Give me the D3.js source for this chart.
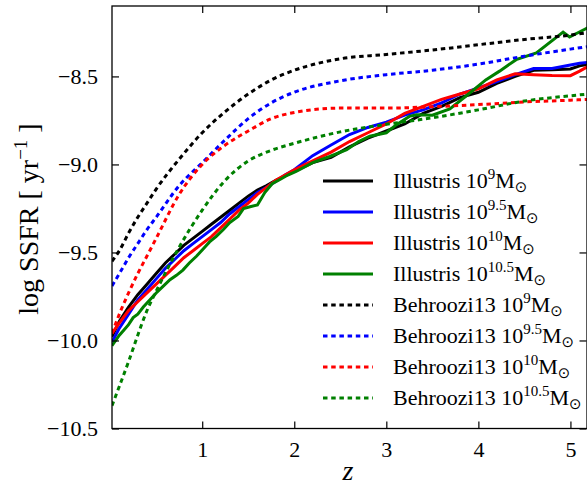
<!DOCTYPE html>
<html>
<head>
<meta charset="utf-8">
<script src="https://cdnjs.cloudflare.com/ajax/libs/d3/7.8.5/d3.min.js"></script>
<style>
  body { margin: 0; background: #fff; }
  text { font-family: "Liberation Serif", "DejaVu Serif", serif; fill: #000; }
</style>
</head>
<body>
<script>
var xTicks = [1, 2, 3, 4, 5];
var yTicks = [-10.5, -10.0, -9.5, -9.0, -8.5];

// Illustris (solid)
var ilZ = [0.02, 0.1, 0.2, 0.3, 0.4, 0.5, 0.6, 0.7, 0.8, 0.9, 1.0, 1.1, 1.2, 1.3, 1.4, 1.5, 1.6, 1.7, 1.8, 1.9, 2.0,
           2.2, 2.4, 2.6, 2.8, 3.0, 3.2, 3.4, 3.6, 3.8, 4.0, 4.2, 4.4, 4.6, 4.8, 5.0, 5.1, 5.2];
var il9 = [-9.98, -9.89, -9.81, -9.74, -9.68, -9.62, -9.56, -9.51, -9.46, -9.42, -9.38, -9.34, -9.30, -9.26, -9.22, -9.18, -9.145, -9.12, -9.09, -9.065, -9.04,
           -8.99, -8.96, -8.90, -8.85, -8.81, -8.77, -8.71, -8.67, -8.62, -8.59, -8.54, -8.50, -8.465, -8.462, -8.458, -8.44, -8.43];
var il95 = [-10.01, -9.93, -9.85, -9.77, -9.71, -9.65, -9.59, -9.54, -9.49, -9.45, -9.41, -9.37, -9.33, -9.28, -9.24, -9.20, -9.16, -9.13, -9.095, -9.06, -9.03,
            -8.95, -8.89, -8.83, -8.79, -8.76, -8.72, -8.69, -8.65, -8.60, -8.565, -8.53, -8.49, -8.455, -8.455, -8.435, -8.425, -8.42];
var il10 = [-9.96, -9.90, -9.83, -9.78, -9.73, -9.68, -9.63, -9.58, -9.53, -9.49, -9.45, -9.41, -9.36, -9.31, -9.26, -9.22, -9.17, -9.13, -9.09, -9.06, -9.03,
            -8.98, -8.93, -8.87, -8.82, -8.77, -8.71, -8.67, -8.63, -8.60, -8.57, -8.52, -8.485, -8.49, -8.495, -8.496, -8.47, -8.44];

var il105Z = [0.02, 0.1, 0.15, 0.2, 0.25, 0.3, 0.36, 0.43, 0.5, 0.58, 0.65, 0.72, 0.79, 0.86, 0.94, 1.01, 1.08, 1.15, 1.23, 1.3, 1.39, 1.45,
              1.52, 1.6, 1.68, 1.76, 1.84, 1.93, 2.02, 2.2, 2.385, 2.57, 2.7, 2.82, 3.0, 3.11, 3.25, 3.33, 3.5, 3.69, 3.87, 4.08, 4.23,
              4.41, 4.63, 4.92, 4.99, 5.2];
var il105 = [-10.03, -9.97, -9.94, -9.91, -9.87, -9.85, -9.81, -9.77, -9.73, -9.69, -9.655, -9.63, -9.60, -9.56, -9.52, -9.48, -9.44, -9.41, -9.37, -9.33, -9.295, -9.25,
             -9.24, -9.23, -9.16, -9.11, -9.087, -9.06, -9.04, -8.99, -8.955, -8.916, -8.87, -8.84, -8.82, -8.774, -8.727, -8.718, -8.72, -8.685, -8.61, -8.52, -8.47,
             -8.405, -8.367, -8.248, -8.276, -8.22];

// Behroozi13 (dotted)
var beZ = [0.02, 0.1, 0.2, 0.3, 0.4, 0.5, 0.75, 1.0, 1.25, 1.5, 1.75, 2.0, 2.5, 3.0, 3.5, 4.0, 4.5, 5.0, 5.2];
var be9 = [-9.55, -9.49, -9.39, -9.30, -9.22, -9.14, -8.97, -8.82, -8.70, -8.60, -8.52, -8.465, -8.40, -8.375, -8.35, -8.32, -8.29, -8.265, -8.25];
var be95 = [-9.69, -9.62, -9.53, -9.45, -9.37, -9.30, -9.12, -8.99, -8.86, -8.74, -8.65, -8.59, -8.525, -8.49, -8.465, -8.43, -8.385, -8.345, -8.33];
var be10 = [-9.96, -9.85, -9.73, -9.62, -9.52, -9.42, -9.17, -9.00, -8.89, -8.81, -8.74, -8.705, -8.68, -8.68, -8.672, -8.66, -8.645, -8.635, -8.63];
var be105 = [-10.37, -10.26, -10.12, -9.97, -9.83, -9.72, -9.47, -9.26, -9.09, -8.98, -8.92, -8.88, -8.815, -8.772, -8.735, -8.69, -8.64, -8.61, -8.60];

var seriesNames = ['Illustris', 'Illustris', 'Illustris', 'Illustris', 'Behroozi13', 'Behroozi13', 'Behroozi13', 'Behroozi13'];
var massExp = ['9', '9.5', '10', '10.5', '9', '9.5', '10', '10.5'];
var colors = ['#000000', '#0000ff', '#ff0000', '#008000', '#000000', '#0000ff', '#ff0000', '#008000'];

var serif = '"Liberation Serif", "DejaVu Serif", serif';

function pairs(zs, ys) {
  return zs.map(function(z, i) { return [z, ys[i]]; });
}

var lines = [
  { pts: pairs(ilZ, il9), dotted: false },
  { pts: pairs(ilZ, il95), dotted: false },
  { pts: pairs(ilZ, il10), dotted: false },
  { pts: pairs(il105Z, il105), dotted: false },
  { pts: pairs(beZ, be9), dotted: true },
  { pts: pairs(beZ, be95), dotted: true },
  { pts: pairs(beZ, be10), dotted: true },
  { pts: pairs(beZ, be105), dotted: true }
];

/* ===== frame ===== */

var w = 587;
var h = 487;
var padL = 112, padR = 587, padT = 6, padB = 428.5;

var svg = d3.select('body')
  .append('svg')
  .attr('width', w)
  .attr('height', h);

var xScale = d3.scaleLinear().domain([0.02, 5.18]).range([padL, padR]);
var yScale = d3.scaleLinear().domain([-10.5, -8.1]).range([padB, padT]);

svg.append('clipPath').attr('id', 'clip')
  .append('rect')
  .attr('x', padL).attr('y', padT)
  .attr('width', padR - padL).attr('height', padB - padT);

/* ===== lines ===== */

var lineGen = d3.line()
  .x(function(d) { return xScale(d[0]); })
  .y(function(d) { return yScale(d[1]); });

var smoothGen = d3.line()
  .curve(d3.curveMonotoneX)
  .x(function(d) { return xScale(d[0]); })
  .y(function(d) { return yScale(d[1]); });

svg.append('g').attr('clip-path', 'url(#clip)')
  .selectAll('path')
  .data(lines)
  .enter()
  .append('path')
  .attr('d', function(d) { return d.dotted ? smoothGen(d.pts) : lineGen(d.pts); })
  .attr('fill', 'none')
  .attr('stroke', function(d, i) { return colors[i]; })
  .attr('stroke-width', 3)
  .attr('stroke-dasharray', function(d) { return d.dotted ? '4.5,3.7' : null; });

/* ===== axes ===== */

var xAxis = d3.axisBottom(xScale).tickValues(xTicks).tickSize(-7).tickPadding(12)
  .tickFormat(d3.format('d'));
var yAxis = d3.axisLeft(yScale).tickValues(yTicks).tickSize(-7).tickPadding(14)
  .tickFormat(function(d) { return d3.format('.1f')(d).replace('-', '\u2212'); });

var gx = svg.append('g').attr('transform', 'translate(0,' + padB + ')').call(xAxis);
var gy = svg.append('g').attr('transform', 'translate(' + padL + ',0)').call(yAxis);
var gxt = svg.append('g').attr('transform', 'translate(0,' + padT + ')')
  .call(d3.axisTop(xScale).tickValues(xTicks).tickSize(-7).tickFormat(''));
var gyr = svg.append('g').attr('transform', 'translate(' + (padR - 0.5) + ',0)')
  .call(d3.axisRight(yScale).tickValues(yTicks).tickSize(-7).tickFormat(''));

[gx, gy, gxt, gyr].forEach(function(g) {
  g.attr('font-family', null);
  g.select('.domain').remove();
  g.selectAll('line').attr('stroke', '#000').attr('stroke-width', 1.2);
  g.selectAll('text')
    .style('font-family', serif)
    .style('font-size', '22px')
    .attr('fill', '#000');
});
gx.selectAll('text').attr('dy', '0.75em');

svg.append('rect')
  .attr('x', padL).attr('y', padT)
  .attr('width', padR - padL).attr('height', padB - padT)
  .attr('fill', 'none')
  .attr('stroke', '#000')
  .attr('stroke-width', 1.3);

/* ===== labels ===== */

svg.append('text')
  .attr('x', 348).attr('y', 480)
  .attr('text-anchor', 'middle')
  .style('font-size', '28px')
  .style('font-style', 'italic')
  .text('z');

var yl = svg.append('text')
  .attr('transform', 'translate(38,219) rotate(-90)')
  .attr('text-anchor', 'middle')
  .style('font-size', '28px');
yl.append('tspan').text('log SSFR [ yr');
yl.append('tspan').attr('dy', -11).style('font-size', '19px').text('\u22121');
yl.append('tspan').attr('dy', 11).text(' ]');

/* ===== legend ===== */

var legend = svg.append('g');
var rowY = function(i) { return 181 + i * 31; };

legend.selectAll('line')
  .data(lines)
  .enter()
  .append('line')
  .attr('x1', 323).attr('x2', 373)
  .attr('y1', function(d, i) { return rowY(i); })
  .attr('y2', function(d, i) { return rowY(i); })
  .attr('stroke', function(d, i) { return colors[i]; })
  .attr('stroke-width', 3)
  .attr('stroke-dasharray', function(d) { return d.dotted ? '4.5,3.7' : null; });

seriesNames.forEach(function(name, i) {
  var t = legend.append('text')
    .attr('x', 393).attr('y', rowY(i) + 7)
    .style('font-size', '22px');
  t.append('tspan').text(name + ' 10');
  t.append('tspan').attr('dy', -9).style('font-size', '15px').text(massExp[i]);
  t.append('tspan').attr('dy', 9).text('M');
  t.append('tspan').attr('dy', 4).style('font-size', '15px')
    .style('font-family', 'DejaVu Sans').text('\u2299');
});
</script>
</body>
</html>
